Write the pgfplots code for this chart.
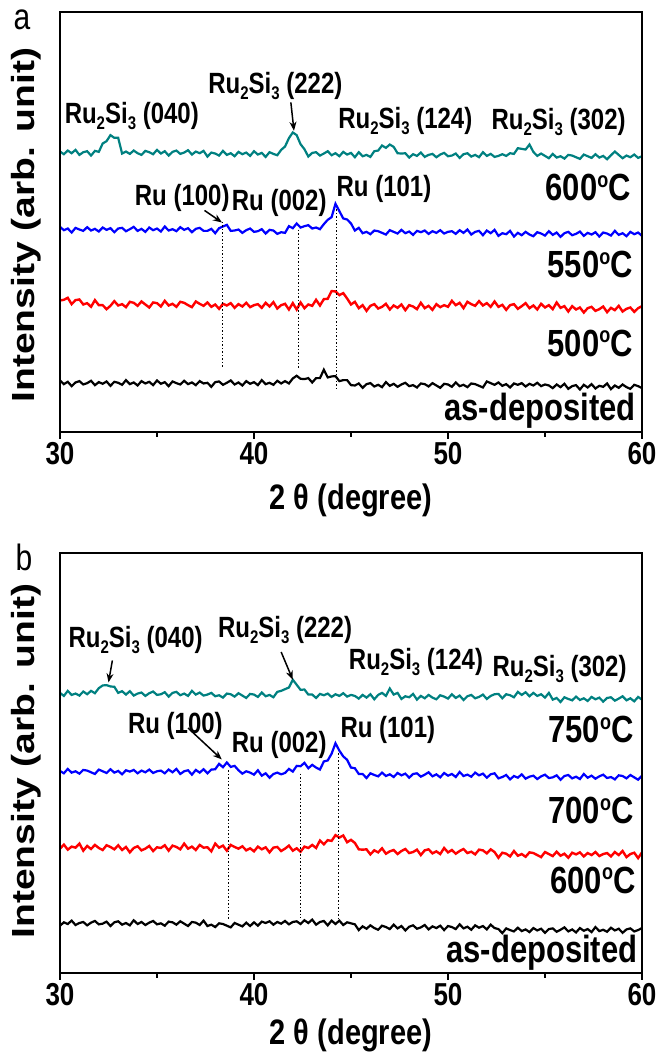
\documentclass[border=0pt]{standalone}
\usepackage{fontspec}
\setmainfont{Liberation Sans}
\usepackage{pgfplots}
\usepackage{pgfplotstable}
\pgfplotsset{compat=1.18}
\usetikzlibrary{arrows.meta}
\definecolor{tealc}{RGB}{0,128,128}
\definecolor{blu}{RGB}{0,0,255}
\definecolor{rd}{RGB}{255,0,0}
\newcommand{\lbl}{\fontsize{24}{28}\selectfont\bfseries}
\newcommand{\tmpf}{\fontsize{31}{35}\selectfont\bfseries}
\newcommand{\tall}[1]{\scalebox{1}[1.22]{#1}}
\newcommand{\sub}[1]{\raisebox{-5pt}{\fontsize{15}{15}\selectfont #1}}
\newcommand{\RuSi}{Ru\sub{2}Si\sub{3}}
\newcommand{\dg}{\raisebox{11pt}{\fontsize{18}{18}\selectfont o}}

\pgfplotstableread{
x t b r k
30.0 838 613 393 154
30.2 830 603 395 143
30.4 841 608 401 150
30.6 833 596 382 137
30.8 843 610 394 148
31.0 828 605 396 152
31.2 836 601 381 142
31.4 839 612 385 146
31.6 826 602 374 153
31.8 840 607 394 140
32.0 837 599 379 149
32.2 862 611 379 144
32.4 869 604 367 151
32.6 887 609 377 138
32.8 879 597 391 150
33.0 879 608 378 147
33.2 832 610 382 141
33.4 838 600 373 155
33.6 831 606 389 143
33.8 841 613 386 148
34.0 833 601 377 139
34.2 828 607 390 152
34.4 840 598 381 145
34.6 836 611 372 150
34.8 830 603 387 140
35.0 843 608 385 154
35.2 832 599 375 144
35.4 839 614 392 149
35.6 826 602 378 137
35.8 837 606 383 151
36.0 841 600 374 146
36.2 831 612 389 142
36.4 835 604 386 153
36.6 842 609 379 143
36.8 829 597 373 148
37.0 838 607 390 140
37.2 833 610 383 152
37.4 840 601 377 145
37.6 823 601 387 147
37.8 835 607 374 135
38.0 832 594 381 149
38.2 826 609 368 151
38.4 840 614 383 141
38.6 828 619 378 147
38.8 833 601 385 154
39.0 824 602 371 142
39.2 837 605 382 148
39.4 830 595 375 139
39.6 835 603 386 152
39.8 825 608 373 144
40.0 839 598 379 149
40.2 829 600 382 140
40.4 834 606 371 155
40.6 822 593 386 143
40.8 836 604 375 147
41.0 831 602 388 141
41.2 827 592 369 153
41.4 843 597 379 145
41.6 853 595 383 152
41.8 878 615 366 145
42.0 895 609 385 160
42.2 887 623 366 168
42.4 860 611 387 159
42.6 845 615 370 158
42.8 823 618 381 161
43.0 834 608 377 148
43.2 836 611 395 161
43.4 826 606 378 161
43.6 832 621 397 186
43.8 839 634 398 163
44.0 827 642 421 166
44.2 833 682 420 167
44.4 824 660 409 152
44.6 837 638 415 155
44.8 829 635 399 155
45.0 834 623 381 140
45.2 821 602 389 139
45.4 836 610 370 145
45.6 824 594 379 132
45.8 828 598 362 143
46.0 822 591 377 146
46.2 839 602 382 136
46.4 841 600 369 141
46.6 856 595 374 134
46.8 849 590 383 149
47.0 859 603 366 138
47.2 852 598 378 144
47.4 833 593 371 135
47.6 832 604 381 142
47.8 833 594 364 147
48.0 820 599 379 137
48.2 830 589 375 140
48.4 825 601 367 133
48.6 835 597 386 145
48.8 822 602 370 143
49.0 828 592 377 136
49.2 831 600 365 146
49.4 821 595 382 139
49.6 829 603 373 132
49.8 834 593 379 144
50.0 824 598 374 142
50.2 826 600 392 135
50.4 832 592 379 148
50.6 819 603 386 137
50.8 830 595 370 141
51.0 833 605 389 134
51.2 823 590 382 145
51.4 828 598 377 143
51.6 821 601 391 138
51.8 836 588 378 133
52.0 825 602 385 151
52.2 831 594 374 146
52.4 822 604 390 141
52.6 825 586 374 148
52.8 830 594 380 138
53.0 825 591 365 143
53.2 833 601 379 133
53.4 831 584 382 145
53.6 848 595 368 141
53.8 846 588 376 146
54.0 844 598 385 136
54.2 859 590 370 144
54.4 837 585 378 139
54.6 825 597 366 147
54.8 832 593 383 137
55.0 825 587 372 142
55.2 818 600 379 139
55.4 831 589 367 131
55.6 820 596 387 142
55.8 824 583 371 134
56.0 817 594 376 144
56.2 828 598 360 129
56.4 826 588 376 137
56.6 821 592 366 140
56.8 816 599 372 127
57.0 829 586 357 141
57.2 824 595 370 133
57.4 819 590 374 143
57.6 830 597 362 130
57.8 820 584 367 138
58.0 825 596 375 135
58.2 815 593 358 145
58.4 827 587 371 128
58.6 838 601 364 139
58.8 828 589 377 132
59.0 818 594 360 142
59.2 826 585 368 134
59.4 821 598 372 129
59.6 829 591 359 141
59.8 819 596 370 137
60.0 824 586 376 131
}\tabA

\pgfplotstableread{
x t b r k
30.0 829 598 368 140
30.2 820 591 380 150
30.4 835 604 365 145
30.6 823 593 374 155
30.8 827 597 371 142
31.0 821 590 383 148
31.2 833 601 362 151
31.4 825 599 376 141
31.6 835 594 367 149
31.8 828 589 379 154
32.0 843 602 370 144
32.2 851 597 364 146
32.4 852 592 378 152
32.6 848 603 373 139
32.8 847 593 366 150
33.0 829 598 378 153
33.2 834 588 364 143
33.4 824 600 373 148
33.6 834 596 357 141
33.8 821 601 370 156
34.0 827 591 375 145
34.2 830 599 363 151
34.4 820 594 368 142
34.6 828 602 376 149
34.8 833 592 361 154
35.0 823 597 372 144
35.2 825 599 370 147
35.4 831 591 378 140
35.6 818 602 362 152
35.8 829 594 377 150
36.0 832 604 373 143
36.2 822 589 366 153
36.4 827 597 383 146
36.6 820 600 368 139
36.8 835 587 374 151
37.0 824 601 364 149
37.2 830 593 379 142
37.4 821 603 371 155
37.6 824 591 372 139
37.8 829 602 360 143
38.0 819 603 383 136
38.2 822 619 371 147
38.4 815 609 377 145
38.6 827 623 362 140
38.8 825 610 379 135
39.0 818 613 373 148
39.2 828 600 368 143
39.4 821 590 375 138
39.6 814 597 363 149
39.8 826 593 369 139
40.0 824 587 360 150
40.2 817 600 374 140
40.4 830 584 366 152
40.6 819 591 372 148
40.8 823 578 357 153
41.0 816 589 371 143
41.2 832 593 373 151
41.4 835 588 361 146
41.6 840 592 368 154
41.8 845 604 377 144
42.0 868 596 362 151
42.2 853 613 369 153
42.4 838 612 359 145
42.6 839 622 374 156
42.8 824 606 370 148
43.0 824 616 379 158
43.2 814 608 370 143
43.4 826 602 392 151
43.6 822 626 381 154
43.8 827 629 393 141
44.0 817 649 391 155
44.2 825 680 408 145
44.4 820 658 401 155
44.6 828 641 407 142
44.8 818 631 387 150
45.0 823 608 394 147
45.2 820 606 385 144
45.4 812 589 366 127
45.6 823 589 365 138
45.8 815 577 366 131
46.0 825 591 351 141
46.2 810 586 363 133
46.4 823 582 357 128
46.6 829 593 369 140
46.8 820 583 353 136
47.0 842 588 360 130
47.2 824 580 364 143
47.4 829 592 352 132
47.6 811 585 361 139
47.8 819 590 367 126
48.0 816 578 355 137
48.2 826 589 358 141
48.4 809 591 365 131
48.6 820 581 349 135
48.8 813 587 363 142
49.0 823 594 366 129
49.2 815 582 354 138
49.4 810 588 360 133
49.6 822 579 352 140
49.8 818 592 370 127
50.0 812 584 357 139
50.2 825 589 364 136
50.4 814 580 353 130
50.6 821 595 361 144
50.8 808 583 367 132
51.0 819 587 355 137
51.2 823 581 359 128
51.4 813 593 351 141
51.6 817 585 365 134
51.8 824 590 363 139
52.0 811 578 354 129
52.2 820 588 366 143
52.4 825 591 358 133
52.6 826 576 341 130
52.8 813 580 356 118
53.0 825 586 353 132
53.2 822 573 345 127
53.4 816 583 361 123
53.6 832 578 347 134
53.8 823 588 352 124
54.0 831 575 344 129
54.2 819 581 357 121
54.4 829 584 355 133
54.6 820 574 349 126
54.8 825 582 343 131
55.0 815 587 358 119
55.2 829 577 352 130
55.4 809 579 346 132
55.6 814 585 359 122
55.8 802 572 347 128
56.0 816 583 353 135
56.2 811 586 341 123
56.4 807 576 356 129
56.6 818 581 351 120
56.8 808 574 357 133
57.0 813 589 345 125
57.2 805 578 355 130
57.4 817 584 349 121
57.6 810 575 358 136
57.8 815 582 346 124
58.0 803 587 352 128
58.2 814 577 355 122
58.4 816 580 345 134
58.6 806 573 358 126
58.8 812 585 349 131
59.0 819 583 361 119
59.2 807 576 343 129
59.4 813 586 352 132
59.6 804 579 356 123
59.8 817 572 340 127
60.0 809 584 357 133
}\tabB

\pgfplotsset{xrd/.style={
  scale only axis, width=582pt, height=420pt,
  xmin=30, xmax=60, ymin=0,
  xtick={30,40,50,60}, minor xtick={35,45,55},
  xticklabels={\tall{30},\tall{40},\tall{50},\tall{60}},
  ytick=\empty, xtick pos=left, tick align=outside,
  major tick length=7pt, minor tick length=5pt,
  tick style={line width=1.5pt, black},
  axis line style={line width=2pt},
  ticklabel style={font=\fontsize{26}{30}\selectfont\bfseries},
  clip=false,
}}

\begin{document}
\begin{tikzpicture}
\path[use as bounding box] (0,0) rectangle (665pt,1053pt);

% ---------------- panel a ----------------
\begin{axis}[xrd, at={(60pt,621pt)}, anchor=south west, ymax=1255]
\addplot[tealc, line width=2.2pt] table[x=x,y=t]{\tabA};
\addplot[blu, line width=2.2pt] table[x=x,y=b]{\tabA};
\addplot[rd, line width=2.4pt] table[x=x,y=r]{\tabA};
\addplot[black, line width=2.2pt] table[x=x,y=k]{\tabA};
\draw[line width=2pt] (rel axis cs:0,0) rectangle (rel axis cs:1,1);
\draw[line width=1pt, dash pattern=on 1.5pt off 2pt] (axis cs:38.4,628) -- (axis cs:38.4,190);
\draw[line width=1pt, dash pattern=on 1.5pt off 2pt] (axis cs:42.3,605) -- (axis cs:42.3,190);
\draw[line width=1pt, dash pattern=on 1.5pt off 2pt] (axis cs:44.25,665) -- (axis cs:44.25,130);
\draw[-{Stealth[length=9pt,width=7pt]}, line width=1.5pt] (axis cs:41.9,985) -- (axis cs:42.06,900);
\draw[-{Stealth[length=9pt,width=7pt]}, line width=1.5pt] (axis cs:37.45,662) -- (axis cs:38.35,626);
\node[font=\lbl] at (axis cs:33.7,945) {\tall{\RuSi{} (040)}};
\node[font=\lbl] at (axis cs:41.1,1035) {\tall{\RuSi{} (222)}};
\node[font=\lbl] at (axis cs:47.8,930) {\tall{\RuSi{} (124)}};
\node[font=\lbl] at (axis cs:55.7,925) {\tall{\RuSi{} (302)}};
\node[font=\lbl] at (axis cs:36.3,700) {\tall{Ru (100)}};
\node[font=\lbl] at (axis cs:41.3,685) {\tall{Ru (002)}};
\node[font=\lbl] at (axis cs:46.7,725) {\tall{Ru (101)}};
\node[font=\tmpf, anchor=east] at (axis cs:59.6,730) {\tall{600\dg C}};
\node[font=\tmpf, anchor=east] at (axis cs:59.7,500) {\tall{550\dg C}};
\node[font=\tmpf, anchor=east] at (axis cs:59.7,265) {\tall{500\dg C}};
\node[font=\tmpf, anchor=east] at (axis cs:59.85,65) {\tall{as-deposited}};
\end{axis}

% ---------------- panel b ----------------
\begin{axis}[xrd, at={(60pt,80pt)}, anchor=south west, ymax=1243]
\addplot[tealc, line width=2.2pt] table[x=x,y=t]{\tabB};
\addplot[blu, line width=2.2pt] table[x=x,y=b]{\tabB};
\addplot[rd, line width=2.4pt] table[x=x,y=r]{\tabB};
\addplot[black, line width=2.2pt] table[x=x,y=k]{\tabB};
\draw[line width=2pt] (rel axis cs:0,0) rectangle (rel axis cs:1,1);
\draw[line width=1pt, dash pattern=on 1.5pt off 2pt] (axis cs:38.67,600) -- (axis cs:38.67,160);
\draw[line width=1pt, dash pattern=on 1.5pt off 2pt] (axis cs:42.4,590) -- (axis cs:42.4,165);
\draw[line width=1pt, dash pattern=on 1.5pt off 2pt] (axis cs:44.37,650) -- (axis cs:44.37,160);
\draw[-{Stealth[length=9pt,width=7pt]}, line width=1.5pt] (axis cs:32.7,925) -- (axis cs:32.5,860);
\draw[-{Stealth[length=9pt,width=7pt]}, line width=1.5pt] (axis cs:41.4,950) -- (axis cs:42.0,868);
\draw[-{Stealth[length=9pt,width=7pt]}, line width=1.5pt] (axis cs:36.6,725) -- (axis cs:38.34,632);
\node[font=\lbl] at (axis cs:33.9,985) {\tall{\RuSi{} (040)}};
\node[font=\lbl] at (axis cs:41.6,1015) {\tall{\RuSi{} (222)}};
\node[font=\lbl] at (axis cs:48.35,920) {\tall{\RuSi{} (124)}};
\node[font=\lbl] at (axis cs:55.75,900) {\tall{\RuSi{} (302)}};
\node[font=\lbl] at (axis cs:35.95,730) {\tall{Ru (100)}};
\node[font=\lbl] at (axis cs:41.3,675) {\tall{Ru (002)}};
\node[font=\lbl] at (axis cs:46.9,720) {\tall{Ru (101)}};
\node[font=\tmpf, anchor=east] at (axis cs:59.75,720) {\tall{750\dg C}};
\node[font=\tmpf, anchor=east] at (axis cs:59.75,480) {\tall{700\dg C}};
\node[font=\tmpf, anchor=east] at (axis cs:59.85,275) {\tall{600\dg C}};
\node[font=\tmpf, anchor=east] at (axis cs:59.95,60) {\tall{as-deposited}};
\end{axis}

% axis titles and panel letters
\node[font=\fontsize{29}{34}\selectfont\bfseries] at (351pt,553pt) {\tall{2 θ (degree)}};
\node[font=\fontsize{29}{34}\selectfont\bfseries] at (351pt,18pt) {\tall{2 θ (degree)}};
\node[font=\fontsize{32}{37}\selectfont\bfseries, rotate=90] at (26pt,828pt) {\scalebox{1.22}[1]{Intensity (arb. unit)}};
\node[font=\fontsize{32}{37}\selectfont\bfseries, rotate=90] at (26pt,292pt) {\scalebox{1.22}[1]{Intensity (arb. unit)}};
\node[font=\fontsize{30}{34}\selectfont] at (22pt,1033pt) {\tall{a}};
\node[font=\fontsize{30}{34}\selectfont] at (24pt,496pt) {\tall{b}};
\end{tikzpicture}
\end{document}
